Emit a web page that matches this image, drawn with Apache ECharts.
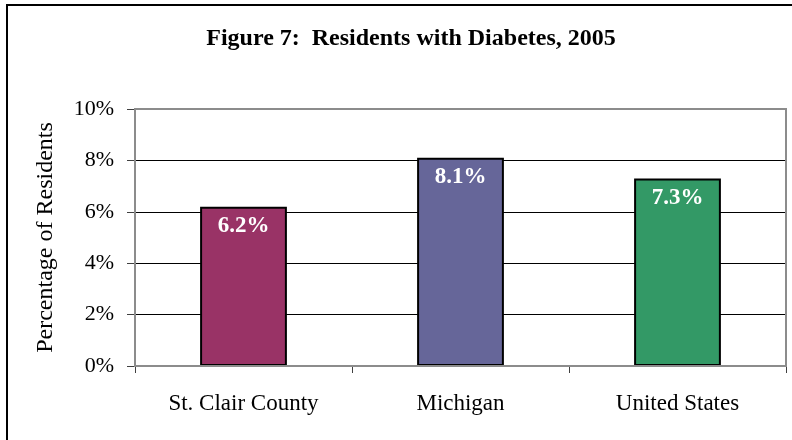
<!DOCTYPE html>
<html>
<head>
<meta charset="utf-8">
<script src="https://cdn.jsdelivr.net/npm/echarts@6/dist/echarts.min.js"></script>
<style>html,body{margin:0;padding:0;background:#fff;}#c{width:792px;height:440px;}</style>
</head>
<body>
<div id="c"></div>
<script>
const categories = ['St. Clair County', 'Michigan', 'United States'];
const values = [6.2, 8.1, 7.3];
const barColors = ['#993366', '#666699', '#339966'];
const yTicks = [0, 2, 4, 6, 8, 10];

const chart = echarts.init(document.getElementById('c'), null, {renderer: 'canvas'});
const serif = '"Liberation Serif", "Times New Roman", serif';
chart.setOption({
  animation: false,
  backgroundColor: '#fff',
  title: {
    text: 'Figure 7:  Residents with Diabetes, 2005',
    left: 406, top: 22, textAlign: 'center',
    textStyle: {fontFamily: serif, fontWeight: 'bold', fontSize: 24, color: '#000'}
  },
  graphic: [{
    type: 'rect', shape: {x: 7, y: 5, width: 820, height: 460},
    style: {fill: 'none', stroke: '#000', lineWidth: 2}, z: 100
  }, {
    type: 'rect', shape: {x: 135, y: 109, width: 651, height: 257},
    style: {fill: 'none', stroke: '#8c8c8c', lineWidth: 2}, z: 5
  }],
  grid: {left: 135, right: 6, top: 109, bottom: 74, containLabel: false},
  xAxis: {
    type: 'category', data: categories,
    axisLine: {lineStyle: {color: '#808080', width: 2}},
    axisTick: {show: true, length: 7, lineStyle: {color: '#404040'}},
    axisLabel: {fontFamily: serif, fontSize: 23, color: '#000', margin: 26}
  },
  yAxis: {
    type: 'value', min: yTicks[0], max: yTicks[yTicks.length - 1], interval: 2,
    name: 'Percentage of Residents', nameLocation: 'middle', nameGap: 77,
    nameTextStyle: {fontFamily: serif, fontSize: 24, color: '#000'},
    axisLine: {show: true, lineStyle: {color: '#808080', width: 2}},
    axisTick: {show: true, length: 8, lineStyle: {color: '#404040'}},
    axisLabel: {fontFamily: serif, fontSize: 22, color: '#000', margin: 21,
      formatter: v => v + '%'},
    splitLine: {lineStyle: {color: '#000', width: 1}}
  },
  series: [{
    type: 'bar', barWidth: '40%',
    data: values.map((v, i) => ({value: v, itemStyle: {color: barColors[i]}})),
    itemStyle: {borderColor: '#000', borderWidth: 2},
    label: {show: true, position: 'insideTop', distance: 8,
      formatter: p => p.value.toFixed(1) + '%',
      fontFamily: serif, fontWeight: 'bold', fontSize: 23, color: '#fff'}
  }]
});
</script>
</body>
</html>
